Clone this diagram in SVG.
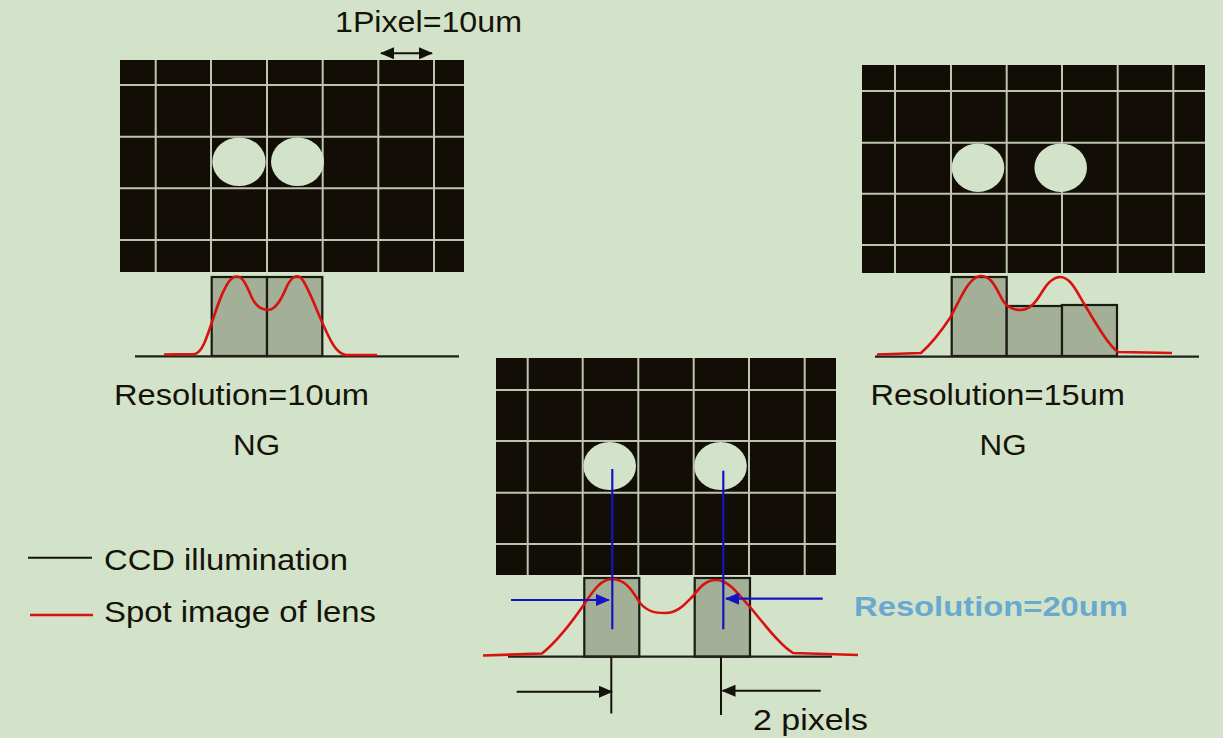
<svg xmlns="http://www.w3.org/2000/svg" width="1223" height="738" viewBox="0 0 1223 738">
<defs>
<style>
.bg{fill:#d3e3c9}
.ccd{fill:#120e07}
.grid{stroke:#bcc5ae;stroke-width:2;fill:none}
.spot{fill:#d3e3c9}
.bar{fill:#a3af96;stroke:#1b1a12;stroke-width:2.2}
.base{stroke:#22201a;stroke-width:2.2;fill:none}
.red{stroke:#d8120e;stroke-width:2.6;fill:none;stroke-linejoin:round}
.blue{stroke:#1414c4;stroke-width:2.2;fill:none}
.dim{stroke:#15120a;stroke-width:2;fill:none}
.t{font-family:"Liberation Sans",Arial,sans-serif;font-size:30px;fill:#15120a}
.tb{font-family:"Liberation Sans",Arial,sans-serif;font-size:28px;font-weight:bold;fill:#6aa9cf}
</style>
<marker id="ab" markerUnits="userSpaceOnUse" markerWidth="14" markerHeight="12" refX="13" refY="6" orient="auto">
<path d="M0,0 L14,6 L0,12 Z" fill="#15120a"/>
</marker>
<marker id="abs" markerUnits="userSpaceOnUse" markerWidth="14" markerHeight="12" refX="1" refY="6" orient="auto">
<path d="M14,0 L0,6 L14,12 Z" fill="#15120a"/>
</marker>
<marker id="ablue" markerUnits="userSpaceOnUse" markerWidth="14" markerHeight="12" refX="13" refY="6" orient="auto">
<path d="M0,0 L14,6 L0,12 Z" fill="#1414c4"/>
</marker>
</defs>
<rect class="bg" x="0" y="0" width="1223" height="738"/>

<g id="ccd-10um">
<rect class="ccd" x="120" y="60" width="344" height="212"/>
<path class="grid" d="M155.7,60V272M211,60V272M267,60V272M322.7,60V272M378.3,60V272M434,60V272M120,85H464M120,136.7H464M120,188.3H464M120,240H464"/>
<ellipse class="spot" cx="239" cy="161.7" rx="26.7" ry="24.3"/>
<ellipse class="spot" cx="297.5" cy="161.7" rx="26.5" ry="24.3"/>
<rect class="bar" x="211.7" y="277" width="55.3" height="79"/>
<rect class="bar" x="267" y="277" width="55.3" height="79"/>
<line class="base" x1="135" y1="356.3" x2="459" y2="356.3"/>
<path class="red" d="M164,354.5 L195,354 C202,352 206,340 212,322 C218,304 226,280 234,277 C242,274 246,284 252,298 C256,306 262,310 268,310 C276,310 282,298 287,286 C291,278 296,274 301,278 C307,284 314,304 322,322 C330,340 336,354 346,355 L377,355"/>
<text class="t" x="114" y="405" textLength="255" lengthAdjust="spacingAndGlyphs">Resolution=10um</text>
<text class="t" x="233" y="455" textLength="47" lengthAdjust="spacingAndGlyphs">NG</text>
</g>

<g id="pixel-label">
<text class="t" x="335" y="31.5" textLength="187" lengthAdjust="spacingAndGlyphs">1Pixel=10um</text>
</g>

<g id="ccd-15um">
<rect class="ccd" x="862" y="65" width="343" height="208"/>
<path class="grid" d="M895,65V273M951,65V273M1006.7,65V273M1062,65V273M1117.7,65V273M1173.3,65V273M862,91H1205M862,142.7H1205M862,193.7H1205M862,245H1205"/>
<ellipse class="spot" cx="978" cy="167.7" rx="26.3" ry="24.2"/>
<ellipse class="spot" cx="1060.7" cy="167.7" rx="26.3" ry="24.2"/>
<rect class="bar" x="951.7" y="277" width="55" height="79"/>
<rect class="bar" x="1006.7" y="306" width="55.3" height="50"/>
<rect class="bar" x="1062" y="305" width="55" height="51"/>
<line class="base" x1="875" y1="356.7" x2="1199" y2="356.7"/>
<path class="red" d="M877,354.5 L921,353 C930,345 942,330 950,318 C960,300 968,278 980,276 C990,275 995,285 1003,301 C1008,308 1014,310 1020,310 C1030,310 1036,302 1042,292 C1048,282 1054,277 1060,277 C1070,277 1076,290 1083,302 C1095,322 1108,345 1118,352 L1172,353"/>
<text class="t" x="870.5" y="405" textLength="254.5" lengthAdjust="spacingAndGlyphs">Resolution=15um</text>
<text class="t" x="979.5" y="455" textLength="47" lengthAdjust="spacingAndGlyphs">NG</text>
</g>

<g id="ccd-20um">
<rect class="ccd" x="496" y="358" width="340" height="217"/>
<path class="grid" d="M527.7,358V575M582.7,358V575M638.3,358V575M693.7,358V575M749,358V575M804.7,358V575M496,390H836M496,441H836M496,492.7H836M496,544H836"/>
<ellipse class="spot" cx="609.7" cy="466" rx="26.3" ry="24"/>
<ellipse class="spot" cx="720.5" cy="466" rx="26.3" ry="24"/>
<rect class="bar" x="584.3" y="578" width="55" height="78.7"/>
<rect class="bar" x="694.7" y="578" width="55.3" height="78.7"/>
<line class="base" x1="508" y1="656.7" x2="832" y2="656.7"/>
<path class="red" d="M483,655.5 L542,653.5 C555,643 570,625 585,603 C595,588 602,579 612,579 C625,579 632,590 640,603 C648,612 655,613 665,613 C678,613 685,604 693,596 C700,587 706,580 716,580 C730,580 740,597 750,607 C765,625 780,645 793,653 L858,655"/>
<text class="tb" x="854" y="616" textLength="274" lengthAdjust="spacingAndGlyphs">Resolution=20um</text>
<text class="t" x="753" y="729.5" textLength="115" lengthAdjust="spacingAndGlyphs">2 pixels</text>
</g>

<g id="legend">
<line x1="28" y1="557.7" x2="92" y2="557.7" stroke="#15120a" stroke-width="2"/>
<line x1="30" y1="615" x2="93" y2="615" stroke="#d8120e" stroke-width="2.4"/>
<text class="t" x="104" y="570" textLength="244" lengthAdjust="spacingAndGlyphs">CCD illumination</text>
<text class="t" x="104" y="621.7" textLength="272" lengthAdjust="spacingAndGlyphs">Spot image of lens</text>
</g>

<g id="connectors">
<line class="dim" x1="381" y1="53.3" x2="432" y2="53.3" marker-start="url(#abs)" marker-end="url(#ab)"/>
<line class="blue" x1="612.3" y1="469" x2="612.3" y2="629.3"/>
<line class="blue" x1="723.3" y1="470.7" x2="723.3" y2="629.3"/>
<line class="blue" x1="511" y1="600" x2="609" y2="600" marker-end="url(#ablue)"/>
<line class="blue" x1="822.7" y1="598.7" x2="726" y2="598.7" marker-end="url(#ablue)"/>
<line class="dim" x1="611.3" y1="657" x2="611.3" y2="713.5"/>
<line class="dim" x1="721" y1="657" x2="721" y2="715"/>
<line class="dim" x1="516.7" y1="691.7" x2="612" y2="691.7" marker-end="url(#ab)"/>
<line class="dim" x1="820.7" y1="690.7" x2="722.5" y2="690.7" marker-end="url(#ab)"/>
</g>
</svg>
